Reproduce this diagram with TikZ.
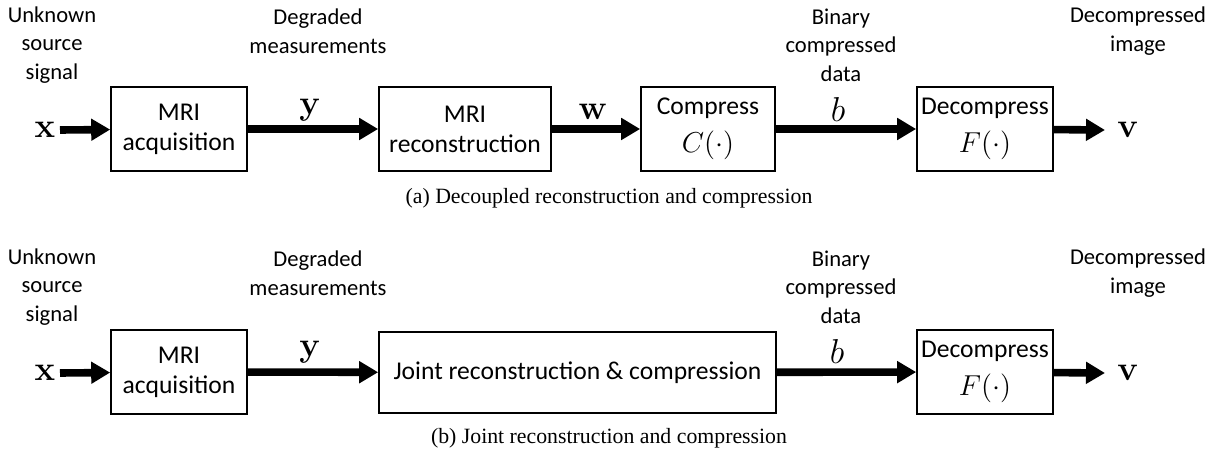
\documentclass[tikz,border=0pt]{standalone}
\usepackage[no-math]{fontspec}
\setmainfont{Carlito}
\newfontfamily\capfont{Liberation Serif}
\usetikzlibrary{arrows.meta}
\begin{document}
\begin{tikzpicture}[x=0.5pt, y=-0.5pt,
    block/.style={draw, line width=0.8pt, inner sep=0pt, align=center,
      minimum height=42pt, font=\fontsize{12.8}{15}\selectfont},
    flow/.style={-{Triangle[length=9.5pt,width=10.5pt]}, line width=3.8pt},
    sig/.style={inner sep=0pt, font=\fontsize{16}{18}\selectfont},
    note/.style={inner sep=0pt, align=center, font=\fontsize{11.3}{14.25}\selectfont},
    subcap/.style={inner sep=0pt, font=\capfont\fontsize{10.9}{12}\selectfont}]
  % ----------- canvas -----------
  \useasboundingbox (0,0) rectangle (1212,449);
  \def\fn#1{{\fontsize{15}{18}\selectfont$#1$}}

  % =====================================
  %      (a) decoupled pipeline
  % =====================================
  \node[note] (srcA) at (52,45) {Unknown\\source\\signal};
  \node[note] (degA) at (318,31) {Degraded\\measurements};
  \node[note] (binA) at (841,45) {Binary\\compressed\\data};
  \node[note] (outA) at (1138,31) {Decompressed\\image};

  % blocks
  \node[block, minimum width=68pt] (acqA) at (179,129) {MRI\\acquisition};
  \node[block, minimum width=86pt] (recA) at (465,129) {MRI\\reconstruction};
  \node[block, minimum width=67pt] (cmpA) at (708,129) {Compress\\[4pt]\fn{C(\cdot)}};
  \node[block, minimum width=68pt] (decA) at (985,129) {Decompress\\[4pt]\fn{F(\cdot)}};

  % signals
  \node[sig] (xA) at (45,130) {$\mathbf{x}$};
  \node[sig] (yA) at (310,110) {$\mathbf{y}$};
  \node[sig] (wA) at (593,112) {$\mathbf{w}$};
  \node[sig] (bA) at (838,110) {$b$};
  \node[sig] (vA) at (1128,130) {$\mathbf{v}$};
  \coordinate (inA) at (60,130);
  \coordinate (endA) at (1105,130);

  % arrows
  \draw[flow] (inA) -- (acqA);
  \draw[flow] (acqA) -- (recA);
  \draw[flow] (recA) -- (cmpA);
  \draw[flow] (cmpA) -- (decA);
  \draw[flow] (decA) -- (endA);

  \node[subcap] (capA) at (609,198) {(a) Decoupled reconstruction and compression};

  % =====================================
  %      (b) joint pipeline
  % =====================================
  \begin{scope}[yshift=-121pt]
  \node[note] (srcB) at (52,45) {Unknown\\source\\signal};
  \node[note] (degB) at (318,31) {Degraded\\measurements};
  \node[note] (binB) at (841,45) {Binary\\compressed\\data};
  \node[note] (outB) at (1138,31) {Decompressed\\image};

  % blocks
  \node[block, minimum width=68pt] (acqB) at (179,130) {MRI\\acquisition};
  \node[block, minimum width=198.5pt, minimum height=40.5pt] (jntB) at (577.5,130.5) {Joint reconstruction \& compression};
  \node[block, minimum width=68pt] (decB) at (985,130) {Decompress\\[4pt]\fn{F(\cdot)}};

  % signals
  \node[sig] (xB) at (45,131) {$\mathbf{x}$};
  \node[sig] (yB) at (310,110) {$\mathbf{y}$};
  \node[sig] (bB) at (837,110) {$b$};
  \node[sig] (vB) at (1128,131) {$\mathbf{v}$};
  \coordinate (inB) at (60,131);
  \coordinate (endB) at (1105,131);

  % arrows
  \draw[flow] (inB) -- (acqB);
  \draw[flow] (acqB) -- (jntB);
  \draw[flow] (jntB) -- (decB);
  \draw[flow] (decB) -- (endB);

  \node[subcap] (capB) at (609,196) {(b) Joint reconstruction and compression};
  \end{scope}
\end{tikzpicture}
\end{document}
